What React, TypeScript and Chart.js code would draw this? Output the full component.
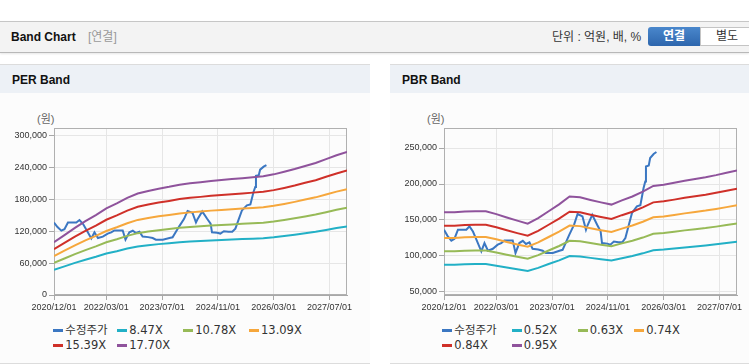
import React, { useEffect, useRef } from "react";
import { Chart, registerables } from "chart.js";
Chart.register(...registerables);

// ---- x axis (months since 2020/12/01) ----
const xTickMonths = [0, 15, 31, 47, 63, 79];
const xTickLabels = ["2020/12/01", "2022/03/01", "2023/07/01", "2024/11/01", "2026/03/01", "2027/07/01"];
const bandMonths = [0, 3, 6, 9, 12, 15, 18, 21, 24, 27, 30, 33, 36, 39, 42, 45, 48, 51, 54, 57, 60, 63, 66, 69, 72, 75, 78, 81, 84];

// ---- 수정주가 (adjusted price) ----
const priceMonths = [0, 1.0, 2.1, 3.0, 4.0, 5.5, 6.4, 7.3, 8.3, 9.2, 10.7, 11.6, 12.6, 14, 15.4, 16.4, 17.3, 19.7, 20.5, 21.6, 22.6, 23.5, 24.5, 25.4, 27, 28.3, 29.2, 31.2, 33.1, 34, 35.9, 37.3, 38.3, 39.7, 40.7, 41.1, 42.5, 43.9, 44.9, 45.3, 46.8, 47.7, 48.7, 50, 51.1, 52, 53, 53.9, 55.3, 56.3, 57.2, 57.7, 57.9, 58.7, 59.1, 60.1, 60.9];
const priceValues = [136500, 128000, 121200, 124000, 136500, 136500, 136500, 141100, 134000, 123900, 106400, 118000, 107300, 110000, 115700, 118000, 121700, 121700, 104200, 118000, 121000, 116700, 119000, 110100, 109000, 107300, 104200, 104200, 107300, 108600, 129300, 143500, 158300, 155000, 136500, 142000, 157300, 143500, 134200, 118000, 117200, 115700, 120000, 119000, 119000, 125000, 143500, 159700, 168900, 170500, 194000, 203600, 224400, 225600, 236100, 241700, 244400];

// ---- PER band ----
const perLabels = ["8.47X", "10.78X", "13.09X", "15.39X", "17.70X"];
const per847 = [47500, 54000, 60500, 66500, 72000, 78000, 82500, 87500, 91500, 93800, 95800, 97500, 99400, 100700, 101700, 102800, 103600, 104500, 105300, 106100, 107000, 108700, 111000, 113500, 116300, 119000, 122500, 126000, 129000];
const per1078 = [60500, 68700, 77000, 84600, 91600, 99300, 105000, 111400, 116500, 119400, 121900, 124100, 126500, 128200, 129400, 130800, 131900, 133000, 134000, 135000, 136200, 138300, 141300, 144500, 148000, 151500, 155900, 160400, 164200];
const per1309 = [73400, 83500, 93500, 102800, 111300, 120500, 127500, 135200, 141400, 145000, 148100, 150700, 153600, 155600, 157200, 158900, 160100, 161500, 162700, 164000, 165400, 168000, 171500, 175400, 179700, 183900, 189300, 194700, 199400];
const per1539 = [86300, 98100, 109900, 120800, 130800, 141700, 149900, 159000, 166300, 170400, 174100, 177200, 180600, 183000, 184800, 186800, 188200, 189900, 191300, 192800, 194400, 197500, 201700, 206200, 211300, 216200, 222600, 228900, 234400];
const per1770 = [99300, 112800, 126400, 139000, 150500, 163000, 172400, 182900, 191200, 196000, 200200, 203700, 207700, 210400, 212500, 214800, 216500, 218400, 220000, 221700, 223600, 227200, 232000, 237200, 243000, 248700, 256000, 263300, 269600];
const perYTicks = [0, 60000, 120000, 180000, 240000, 300000];

// ---- PBR band ----
const pbrLabels = ["0.52X", "0.63X", "0.74X", "0.84X", "0.95X"];
const pbr052 = [87900, 87900, 88600, 88800, 88800, 86600, 84000, 81600, 79300, 83500, 88800, 94000, 100000, 99400, 97400, 95500, 93800, 97000, 100000, 103700, 108000, 108900, 110400, 111900, 113300, 114600, 116200, 118000, 119800];
const pbr063 = [106500, 106500, 107300, 107600, 107600, 104900, 101800, 98900, 96100, 101200, 107600, 113900, 121200, 120400, 118000, 115700, 113600, 117500, 121200, 125600, 130800, 131900, 133800, 135600, 137300, 138800, 140800, 143000, 145100];
const pbr074 = [125100, 125100, 126100, 126400, 126400, 123200, 119500, 116100, 112900, 118800, 126400, 133800, 142300, 141500, 138600, 135900, 133500, 138000, 142300, 147600, 153700, 155000, 157100, 159200, 161200, 163100, 165400, 167900, 170500];
const pbr084 = [142000, 142000, 143100, 143400, 143400, 139900, 135700, 131800, 128100, 134900, 143400, 151800, 161500, 160600, 157300, 154300, 151500, 156700, 161500, 167500, 174500, 175900, 178300, 180800, 183000, 185100, 187700, 190600, 193500];
const pbr095 = [160600, 160600, 161900, 162200, 162200, 158200, 153500, 149100, 144900, 152500, 162200, 171700, 182700, 181600, 177900, 174500, 171400, 177200, 182700, 189500, 197300, 199000, 201700, 204400, 207000, 209400, 212300, 215600, 218900];
const pbrYTicks = [50000, 100000, 150000, 200000, 250000];

const priceLabel = "수정주가";
const priceColor = "#3b77c2";
const bandColors = ["#22b0c6", "#97ba57", "#f6a73c", "#cf3029", "#8f539c"];

const tickFont = { family: "'Liberation Sans', Arial, sans-serif", size: 9 };
const uiFont = "'Liberation Sans', Arial, 'Noto Sans CJK KR', sans-serif";
const legendFont = "'DejaVu Sans', 'Noto Sans CJK KR', sans-serif";

const framePlugin = {
  id: "frame",
  beforeDatasetsDraw(chart: any) {
    const { ctx, chartArea } = chart;
    const l = Math.round(chartArea.left) + 0.5;
    const t = Math.round(chartArea.top) + 0.5;
    const r = Math.round(chartArea.right) - 0.5;
    const b = Math.round(chartArea.bottom) - 0.5;
    ctx.save();
    ctx.strokeStyle = "#b0b0b0";
    ctx.lineWidth = 1;
    ctx.strokeRect(l, t, r - l, b - t);
    ctx.restore();
  },
};

type BandChartProps = {
  bands: number[][];
  labels: string[];
  yMin: number;
  yMax: number;
  yTicks: number[];
  width: number;
  height: number;
  padRight: number;
};

function BandCanvas({ bands, labels, yMin, yMax, yTicks, width, height, padRight }: BandChartProps) {
  const ref = useRef<HTMLCanvasElement | null>(null);
  useEffect(() => {
    if (!ref.current) return;
    const datasets: any[] = bands.map((vals, i) => ({
      label: labels[i],
      data: bandMonths.map((m, j) => ({ x: m, y: vals[j] })),
      borderColor: bandColors[i],
      backgroundColor: bandColors[i],
      borderWidth: 2,
      pointRadius: 0,
      tension: 0,
    }));
    datasets.push({
      label: priceLabel,
      data: priceMonths.map((m, j) => ({ x: m, y: priceValues[j] })),
      borderColor: priceColor,
      backgroundColor: priceColor,
      borderWidth: 2,
      pointRadius: 0,
      tension: 0,
    });
    const chart = new Chart(ref.current, {
      type: "line",
      data: { datasets },
      plugins: [framePlugin],
      options: {
        responsive: false,
        animation: false,
        devicePixelRatio: 1,
        layout: { autoPadding: false, padding: { left: 0, top: 35, right: padRight, bottom: 0 } },
        plugins: { legend: { display: false }, tooltip: { enabled: false }, title: { display: false } },
        scales: {
          x: {
            type: "linear",
            min: 0,
            max: 84,
            afterBuildTicks: (scale: any) => {
              scale.ticks = xTickMonths.map((v) => ({ value: v }));
            },
            afterFit: (scale: any) => {
              scale.height = 23;
            },
            ticks: {
              autoSkip: false,
              maxRotation: 0,
              padding: 2,
              color: "#333",
              font: tickFont,
              callback: (v: any) => {
                const i = xTickMonths.indexOf(Number(v));
                return i >= 0 ? xTickLabels[i] : "";
              },
            },
            grid: { color: "#e6e6e6", tickColor: "#a8a8a8", tickLength: 5 },
            border: { color: "#a8a8a8" },
          },
          y: {
            type: "linear",
            min: yMin,
            max: yMax,
            afterBuildTicks: (scale: any) => {
              scale.ticks = yTicks.map((v) => ({ value: v }));
            },
            afterFit: (scale: any) => {
              scale.width = 54;
            },
            ticks: {
              padding: 2,
              color: "#333",
              font: tickFont,
              callback: (v: any) => Number(v).toLocaleString("en-US"),
            },
            grid: { color: "#e6e6e6", tickColor: "#a8a8a8", tickLength: 5 },
            border: { color: "#a8a8a8" },
          },
        },
      } as any,
    });
    return () => chart.destroy();
  }, []);
  return <canvas ref={ref} width={width} height={height} style={{ display: "block", width, height }} />;
}

function LegendItem({ x, y, color, text }: { x: number; y: number; color: string; text: string }) {
  return (
    <div style={{ position: "absolute", left: x, top: y - 8, height: 16, display: "flex", alignItems: "center", whiteSpace: "nowrap" }}>
      <span style={{ display: "inline-block", width: 10, height: 3, background: color, marginRight: 2 }} />
      <span style={{ fontFamily: legendFont, fontSize: 11.5, color: "#333", lineHeight: "16px" }}>{text}</span>
    </div>
  );
}

function Panel({ left, width, title, bands, labels, yMin, yMax, yTicks, padRight, cols }: any) {
  const rows = [
    [{ c: priceColor, t: priceLabel }, { c: bandColors[0], t: labels[0] }, { c: bandColors[1], t: labels[1] }, { c: bandColors[2], t: labels[2] }],
    [{ c: bandColors[3], t: labels[3] }, { c: bandColors[4], t: labels[4] }],
  ];
  return (
    <div style={{ position: "absolute", left, top: 64, width, height: 298, background: "#fcfcfc", borderTop: "1px solid #dcdcdc", borderBottom: "1px solid #dcdcdc" }}>
      <div style={{ position: "absolute", left: 0, top: 0, width, height: 28, background: "#edf1f6" }}>
        <span style={{ position: "absolute", left: 12, top: 8, fontFamily: uiFont, fontWeight: "bold", fontSize: 12, lineHeight: "14px", color: "#111" }}>{title}</span>
      </div>
      <div style={{ position: "absolute", left: 37, top: 47, fontFamily: uiFont, fontSize: 11, lineHeight: "14px", color: "#666" }}>(원)</div>
      <div style={{ position: "absolute", left: 0, top: 28 }}>
        <BandCanvas bands={bands} labels={labels} yMin={yMin} yMax={yMax} yTicks={yTicks} width={width} height={225} padRight={padRight} />
      </div>
      {rows.map((row, ri) =>
        row.map((it, ci) => (
          <LegendItem key={ri + "-" + ci} x={cols[ci]} y={ri === 0 ? 265.3 : 280.3} color={it.c} text={it.t} />
        ))
      )}
    </div>
  );
}

export default function App() {
  return (
    <div style={{ position: "absolute", left: 0, top: 0, width: 749, height: 364, background: "#fff", overflow: "hidden" }}>
      <div style={{ position: "absolute", left: 0, top: 21, width: 749, height: 30, background: "#f3f3f3", borderTop: "1px solid #c6c6c6", borderBottom: "1px solid #b8b8b8", boxShadow: "0 1px 2px rgba(0,0,0,0.10)" }}>
        <span style={{ position: "absolute", left: 11, top: 8, fontFamily: uiFont, fontWeight: "bold", fontSize: 12, lineHeight: "14px", color: "#111" }}>Band Chart</span>
        <span style={{ position: "absolute", left: 88, top: 8, fontFamily: uiFont, fontSize: 12, lineHeight: "14px", color: "#999" }}>[연결]</span>
        <span style={{ position: "absolute", left: 552, top: 8, fontFamily: uiFont, fontSize: 12, lineHeight: "14px", color: "#333" }}>단위 : 억원, 배, %</span>
        <div style={{ position: "absolute", left: 648, top: 5, width: 52, height: 19, background: "linear-gradient(#4a87cc, #2d66ad)", borderRadius: "3px 0 0 3px", color: "#fff", fontFamily: uiFont, fontWeight: "bold", fontSize: 12, lineHeight: "19px", textAlign: "center" }}>연결</div>
        <div style={{ position: "absolute", left: 700, top: 5, width: 52, height: 17, background: "#fff", border: "1px solid #c4c4c4", color: "#333", fontFamily: uiFont, fontSize: 12, lineHeight: "17px", textAlign: "center", boxSizing: "content-box" }}>별도</div>
      </div>
      <Panel left={0} width={370} title="PER Band" bands={[per847, per1078, per1309, per1539, per1770]} labels={perLabels} yMin={0} yMax={314500} yTicks={perYTicks} padRight={23} cols={[53.3, 117.3, 183.3, 249]} />
      <Panel left={390} width={359} title="PBR Band" bands={[pbr052, pbr063, pbr074, pbr084, pbr095]} labels={pbrLabels} yMin={45833} yMax={277778} yTicks={pbrYTicks} padRight={12} cols={[52.3, 121.7, 187.7, 244.3]} />
    </div>
  );
}
